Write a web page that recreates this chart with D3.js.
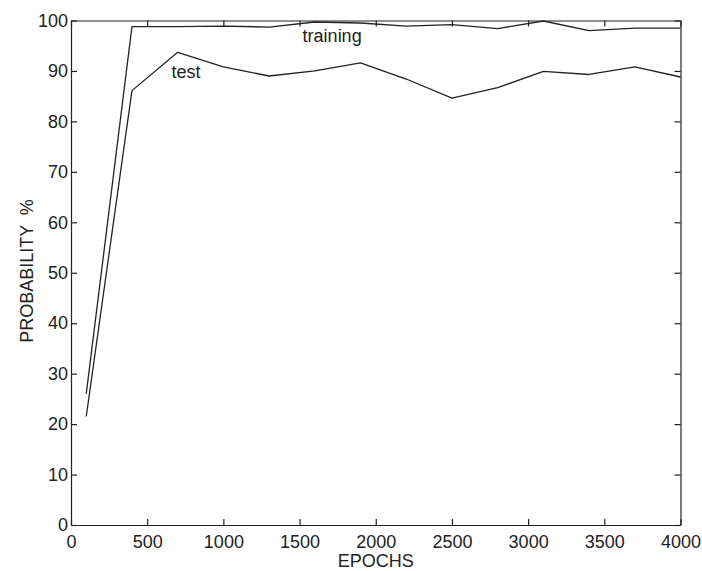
<!DOCTYPE html>
<html>
<head>
<meta charset="utf-8">
<script src="https://d3js.org/d3.v7.min.js"></script>
<style>
  body { margin: 0; background: #fff; }
  svg text { font-family: "Liberation Sans", Arial, sans-serif; fill: #222; }
</style>
</head>
<body>
<script>
// epochs sampled every 300
const epochs = [100, 400, 700, 1000, 1300, 1600, 1900, 2200, 2500, 2800, 3100, 3400, 3700, 4000]
const training = [26, 98.8, 98.8, 98.9, 98.7, 99.7, 99.5, 98.9, 99.2, 98.4, 99.9, 98.0, 98.5, 98.5]
const test = [21.5, 86.1, 93.7, 90.8, 89.0, 90.0, 91.6, 88.4, 84.6, 86.7, 89.9, 89.3, 90.8, 88.8]
const xTicks = [0, 500, 1000, 1500, 2000, 2500, 3000, 3500, 4000]
const yTicks = [0, 10, 20, 30, 40, 50, 60, 70, 80, 90, 100]

const width = 702, height = 571
const margin = {top: 20.5, right: 21.5, bottom: 46, left: 71}

const svg = d3.select("body").append("svg")
    .attr("width", width)
    .attr("height", height)

const x = d3.scaleLinear([0, 4000], [margin.left, width - margin.right])
const y = d3.scaleLinear([0, 100], [height - margin.bottom, margin.top])

const ink = "#222"

function styleAxis(g) {
  g.selectAll("path, line").attr("stroke", ink).attr("stroke-width", 1.2)
  g.selectAll("text").style("font-size", "18px").attr("fill", ink)
}

// bottom axis with labels
svg.append("g")
    .attr("transform", `translate(0,${y(0)})`)
    .call(d3.axisBottom(x).tickValues(xTicks).tickFormat(d3.format("d"))
      .tickSizeInner(-6).tickSizeOuter(0).tickPadding(10))
    .call(styleAxis)

// left axis with labels
svg.append("g")
    .attr("transform", `translate(${x(0)},0)`)
    .call(d3.axisLeft(y).tickValues(yTicks).tickFormat(d3.format("d"))
      .tickSizeInner(-6).tickSizeOuter(0).tickPadding(3))
    .call(styleAxis)

// top and right: ticks only
svg.append("g")
    .attr("transform", `translate(0,${y(100)})`)
    .call(d3.axisTop(x).tickValues(xTicks).tickSizeInner(-6).tickSizeOuter(0).tickFormat(""))
    .call(styleAxis)

svg.append("g")
    .attr("transform", `translate(${x(4000)},0)`)
    .call(d3.axisRight(y).tickValues(yTicks).tickSizeInner(-6).tickSizeOuter(0).tickFormat(""))
    .call(styleAxis)

const line = d3.line()
    .x((d, i) => x(epochs[i]))
    .y(d => y(d))

for (const s of [training, test]) {
  svg.append("path")
      .datum(s)
      .attr("fill", "none")
      .attr("stroke", ink)
      .attr("stroke-width", 1.3)
      .attr("stroke-linejoin", "round")
      .attr("d", line)
}

// series labels
svg.append("text")
    .attr("x", x(1520))
    .attr("y", y(95.7))
    .style("font-size", "18px")
    .text("training")

svg.append("text")
    .attr("x", x(660))
    .attr("y", y(88.7))
    .style("font-size", "18px")
    .text("test")

// axis titles
svg.append("text")
    .attr("x", (x(0) + x(4000)) / 2)
    .attr("y", 567)
    .attr("text-anchor", "middle")
    .style("font-size", "18px")
    .text("EPOCHS")

svg.append("text")
    .attr("transform", `translate(33,${271}) rotate(-90)`)
    .attr("text-anchor", "middle")
    .style("font-size", "18px")
    .style("white-space", "pre")
    .text("PROBABILITY  %")
</script>
</body>
</html>
